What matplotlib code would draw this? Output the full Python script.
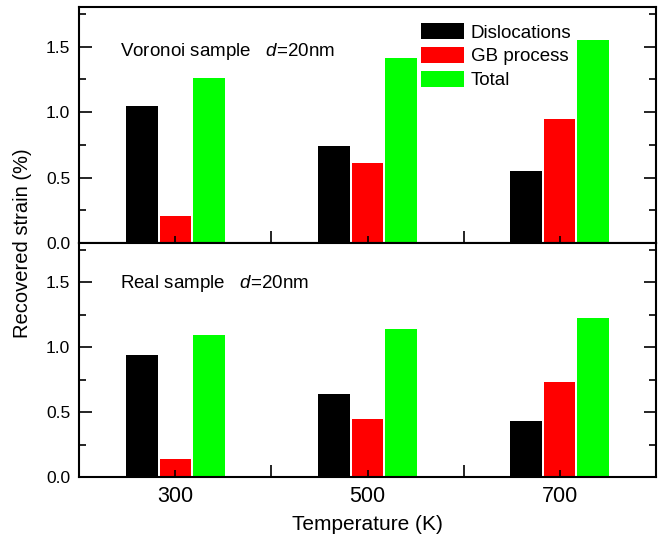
import matplotlib
matplotlib.use("Agg")
import matplotlib.pyplot as plt
import numpy as np

plt.rcParams['font.family'] = ['Liberation Sans', 'DejaVu Sans']
plt.rcParams['mathtext.fontset'] = 'custom'
plt.rcParams['mathtext.rm'] = 'Liberation Sans'
plt.rcParams['mathtext.it'] = 'Liberation Sans:italic'

temperatures = [300, 500, 700]
series_names = ["Dislocations", "GB process", "Total"]
series_colors = ["#000000", "#ff0000", "#00ff00"]
voronoi_values = {
    "Dislocations": [1.05, 0.74, 0.55],
    "GB process": [0.21, 0.61, 0.95],
    "Total": [1.26, 1.41, 1.55],
}
real_values = {
    "Dislocations": [0.94, 0.64, 0.43],
    "GB process": [0.14, 0.45, 0.73],
    "Total": [1.09, 1.14, 1.22],
}
panel_titles = ["Voronoi sample   $\\it{d}$=20nm", "Real sample   $\\it{d}$=20nm"]
ytick_vals = [0.0, 0.5, 1.0, 1.5]

W, H = 659, 548
fig = plt.figure(figsize=(W / 100, H / 100), dpi=100)
left = 79.3 / W
right = 655.7 / W
ax_top = fig.add_axes([left, 1 - 243 / H, right - left, (243 - 7.3) / H])
ax_bot = fig.add_axes([left, 1 - 477 / H, right - left, (477 - 243) / H])

bar_w = 33
offsets = [-35, 0, 35]

for ax, vals, title, ty in [(ax_top, voronoi_values, panel_titles[0], 1.465),
                            (ax_bot, real_values, panel_titles[1], 1.49)]:
    x = np.array(temperatures, dtype=float)
    for name, col, off in zip(series_names, series_colors, offsets):
        ax.bar(x + off, vals[name], width=bar_w, color=col, label=name,
               linewidth=0)
    ax.set_xlim(200, 800)
    ax.set_ylim(0, 1.8)
    ax.set_yticks(ytick_vals)
    ax.set_yticks([0.25, 0.75, 1.25, 1.75], minor=True)
    ax.set_xticks(temperatures)
    ax.set_xticks([400, 600], minor=True)
    ax.yaxis.set_major_formatter(matplotlib.ticker.FormatStrFormatter('%.1f'))
    ax.tick_params(axis='y', which='major', direction='in', length=9, width=1.2,
                   left=True, right=True, labelsize=12.5, pad=6.5)
    ax.tick_params(axis='y', which='minor', direction='in', length=5, width=1.2,
                   left=True, right=True)
    ax.tick_params(axis='x', which='major', direction='in', length=5, width=1.2,
                   labelsize=15.5, pad=6.5)
    ax.tick_params(axis='x', which='minor', direction='in', length=9, width=1.2)
    for sp in ax.spines.values():
        sp.set_linewidth(1.5)
    ax.text(242, ty, title, fontsize=13.5, va='center', ha='left')

ax_top.tick_params(axis='x', which='both', labelbottom=False)

leg = ax_top.legend(loc='upper left', bbox_to_anchor=(421 / W, 1 - 23 / H),
                    bbox_transform=fig.transFigure, frameon=False, fontsize=13.5,
                    handlelength=2.3, handleheight=0.95, handletextpad=0.35,
                    labelspacing=0.28, borderpad=0, borderaxespad=0)

fig.text(23 / W, 1 - 243 / H, "Recovered strain (%)", rotation=90,
         ha='center', va='center', fontsize=14.5)
fig.text(367 / W, 1 - 524 / H, "Temperature (K)", ha='center', va='center',
         fontsize=15)

fig.savefig("out.png", dpi=100)
